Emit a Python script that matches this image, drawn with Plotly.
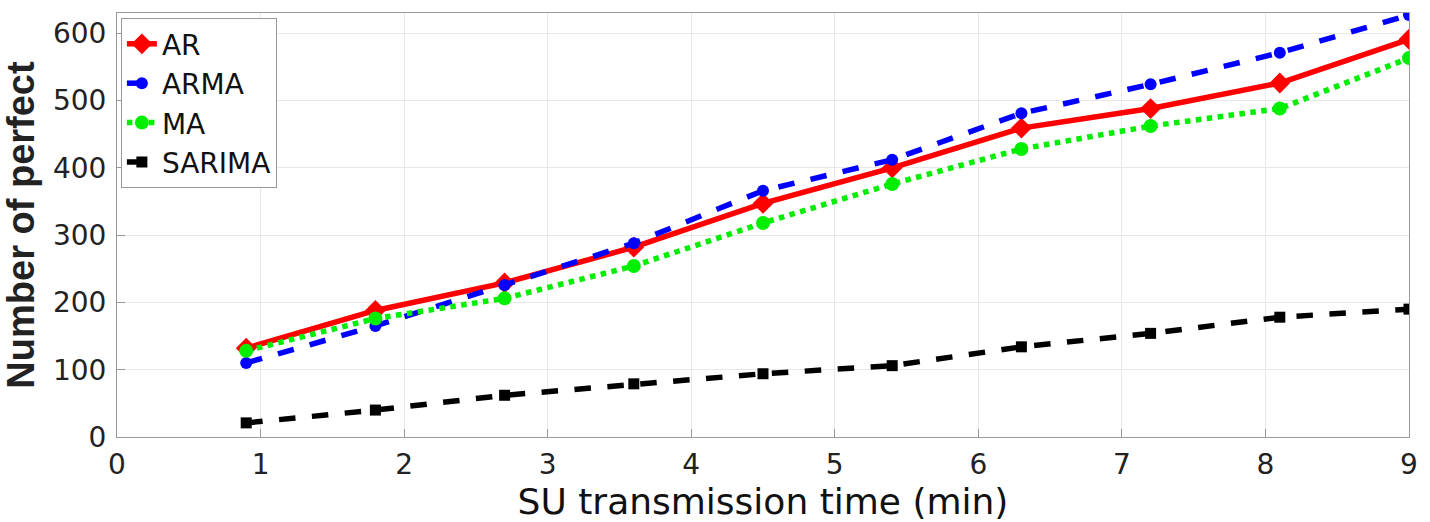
import plotly.graph_objects as go

x_vals = [0.9, 1.8, 2.7, 3.6, 4.5, 5.4, 6.3, 7.2, 8.1, 9.0]
ar = [132, 188, 229, 282, 347, 400, 459, 488, 526, 591]
arma = [110, 165, 226, 288, 366, 412, 481, 524, 571, 627]
ma = [128, 176, 206, 254, 318, 376, 428, 462, 488, 563]
sarima = [21, 40, 62, 79, 94, 106, 134, 154, 178, 190]

WIDE = "DejaVu Sans, sans-serif"
HELV = "Liberation Sans, Arial, sans-serif"

fig = go.Figure()
fig.add_trace(go.Scatter(x=x_vals, y=ar, name="AR", mode="lines+markers",
                         line=dict(color="#ff0000", width=5.5, dash="solid"),
                         marker=dict(symbol="diamond", size=16, color="#ff0000")))
fig.add_trace(go.Scatter(x=x_vals, y=arma, name="ARMA", mode="lines+markers",
                         line=dict(color="#0000ff", width=5.5, dash="dash"),
                         marker=dict(symbol="circle", size=12, color="#0000ff")))
fig.add_trace(go.Scatter(x=x_vals, y=ma, name="MA", mode="lines+markers",
                         line=dict(color="#00ee00", width=5.5, dash="dot"),
                         marker=dict(symbol="circle", size=14, color="#00ee00")))
fig.add_trace(go.Scatter(x=x_vals, y=sarima, name="SARIMA", mode="lines+markers",
                         line=dict(color="#000000", width=5.5, dash="dash"),
                         marker=dict(symbol="square", size=11, color="#000000")))

fig.update_layout(
    width=1430, height=522,
    margin=dict(l=117, r=20, t=12, b=82),
    paper_bgcolor="white", plot_bgcolor="white",
    font=dict(family=WIDE, size=28, color="#222222"),
    showlegend=True,
    legend=dict(x=0.003, y=0.988, xanchor="left", yanchor="top",
                bgcolor="white", bordercolor="#999999", borderwidth=1,
                font=dict(family=WIDE, size=28, color="#111111"),
                itemwidth=30, tracegroupgap=0),
)
fig.update_xaxes(range=[0, 9], tickvals=[0, 1, 2, 3, 4, 5, 6, 7, 8, 9],
                 showgrid=True, gridcolor="#e8e8e8", gridwidth=1,
                 showline=True, linecolor="#999999", linewidth=1, mirror=True,
                 ticks="inside", ticklen=8, tickcolor="#999999",
                 zeroline=False, ticklabelstandoff=2,
                 tickfont=dict(family=WIDE, size=28, color="#222222"),
                 title=dict(text="SU transmission time (min)", standoff=4,
                            font=dict(family=WIDE, size=36, color="#111111")))
fig.update_yaxes(range=[0, 630], tickvals=[0, 100, 200, 300, 400, 500, 600],
                 showgrid=True, gridcolor="#e8e8e8", gridwidth=1,
                 showline=True, linecolor="#999999", linewidth=1, mirror=True,
                 ticks="inside", ticklen=8, tickcolor="#999999",
                 zeroline=False, ticklabelstandoff=4,
                 tickfont=dict(family=WIDE, size=28, color="#222222"),
                 title=dict(text="<b>Number of perfect</b>", standoff=12,
                            font=dict(family=HELV, size=38, color="#222222")))

fig.write_html("out.html")
